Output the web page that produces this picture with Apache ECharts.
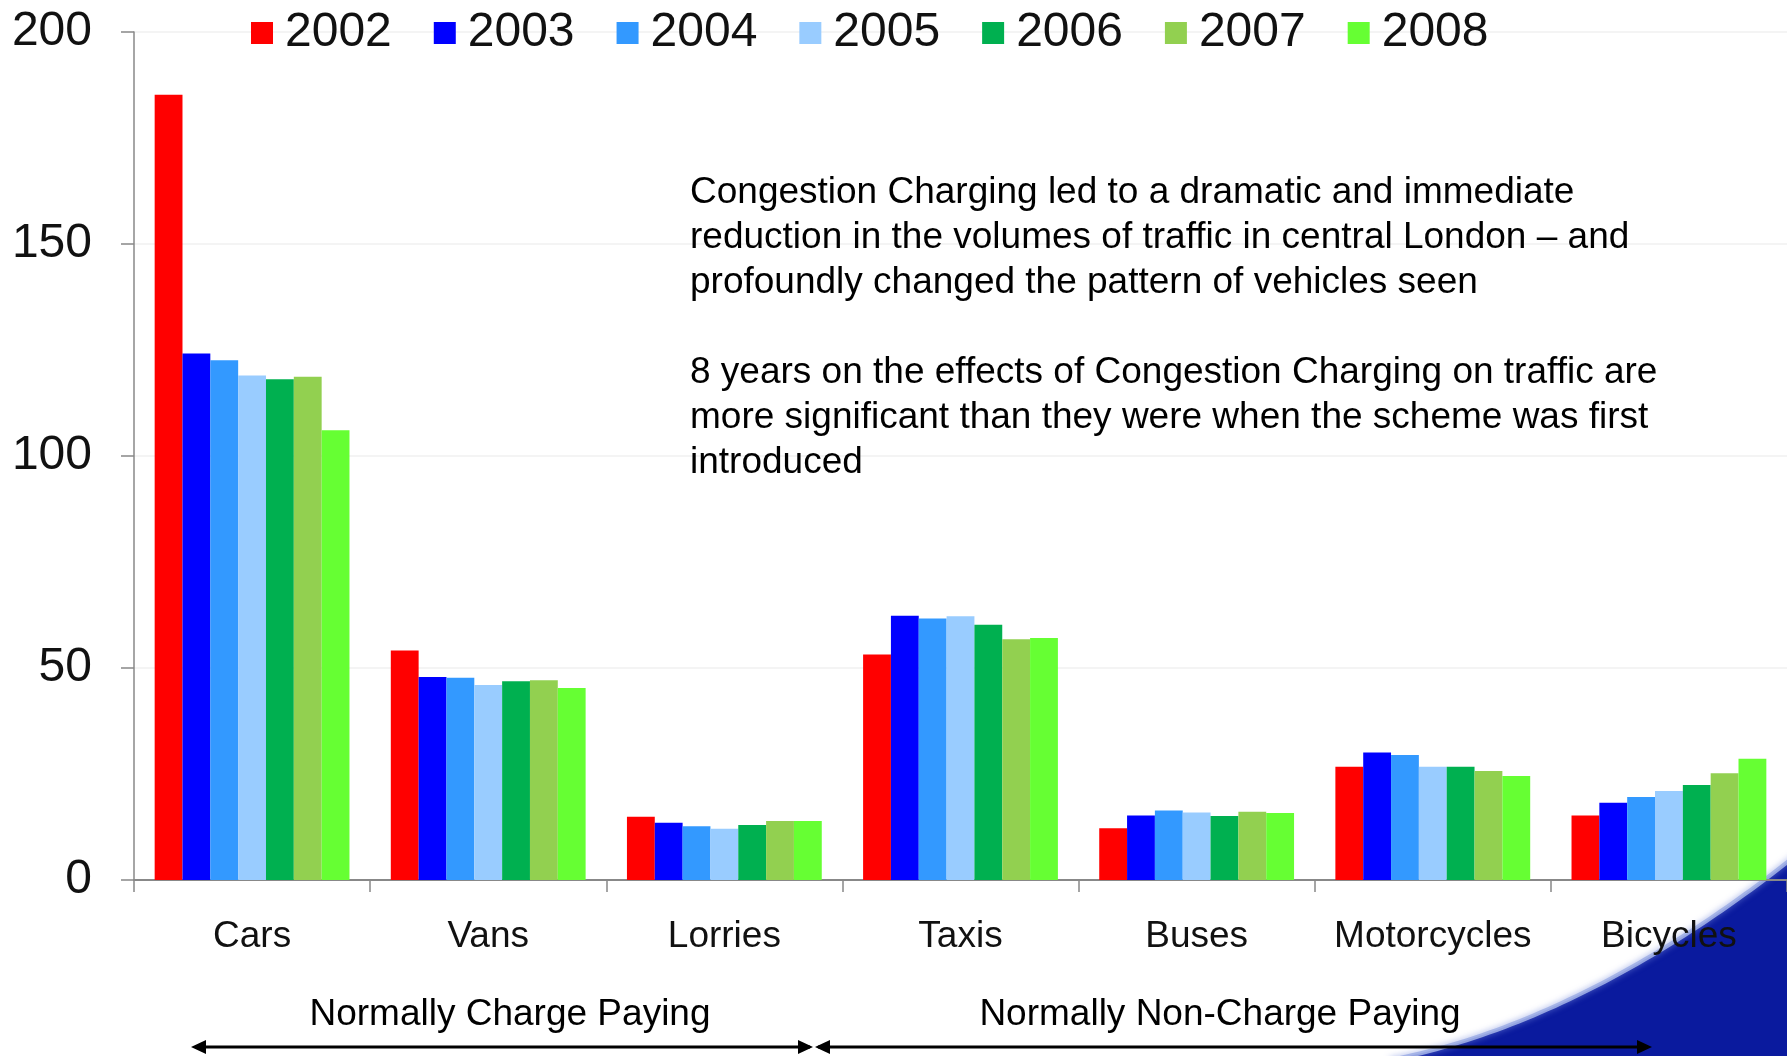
<!DOCTYPE html>
<html>
<head>
<meta charset="utf-8">
<script src="https://cdn.jsdelivr.net/npm/echarts@6/dist/echarts.min.js"></script>
<style>
html,body{margin:0;padding:0;background:#fff;}
#chart{width:1787px;height:1056px;}
</style>
</head>
<body>
<div id="chart"></div>
<script>
const categories = ['Cars', 'Vans', 'Lorries', 'Taxis', 'Buses', 'Motorcycles', 'Bicycles'];
const years = ['2002', '2003', '2004', '2005', '2006', '2007', '2008'];
const yTicks = [0, 50, 100, 150, 200];

const v2002 = [185.2, 54.1, 14.9, 53.2, 12.2, 26.7, 15.2];
const v2003 = [124.2, 47.9, 13.5, 62.3, 15.2, 30.1, 18.2];
const v2004 = [122.6, 47.7, 12.7, 61.7, 16.4, 29.5, 19.6];
const v2005 = [119.0, 46.0, 12.1, 62.2, 15.9, 26.7, 21.0];
const v2006 = [118.1, 46.9, 13.0, 60.2, 15.1, 26.7, 22.4];
const v2007 = [118.7, 47.1, 13.9, 56.8, 16.1, 25.7, 25.2];
const v2008 = [106.1, 45.3, 13.9, 57.1, 15.8, 24.5, 28.6];

const seriesValues = [v2002, v2003, v2004, v2005, v2006, v2007, v2008];
const colors = ['#FF0000', '#0000FF', '#3399FF', '#99CCFF', '#00B050', '#92D050', '#66FF33'];

const noteText = 'Congestion Charging led to a dramatic and immediate\nreduction in the volumes of traffic in central London \u2013 and\nprofoundly changed the pattern of vehicles seen\n\n8 years on the effects of Congestion Charging on traffic are\nmore significant than they were when the scheme was first\nintroduced';
const groupLeft = 'Normally Charge Paying';
const groupRight = 'Normally Non-Charge Paying';

const FONT = '"Liberation Sans", Arial, sans-serif';
const chart = echarts.init(document.getElementById('chart'));

function arrowHead(x, y, dir) {
  return {
    type: 'polygon', z: 20,
    shape: { points: [[x, y], [x - dir * 15, y - 7], [x - dir * 15, y + 7]] },
    style: { fill: '#000' }
  };
}

// decorative swoosh outline (cubic bezier sampled)
function swooshPoints() {
  const p0 = [1390, 1060], p1 = [1545, 1030], p2 = [1690, 940], p3 = [1795, 856];
  const pts = [];
  for (let i = 0; i <= 60; i++) {
    const t = i / 60, u = 1 - t;
    pts.push([
      u*u*u*p0[0] + 3*u*u*t*p1[0] + 3*u*t*t*p2[0] + t*t*t*p3[0],
      u*u*u*p0[1] + 3*u*u*t*p1[1] + 3*u*t*t*p2[1] + t*t*t*p3[1]
    ]);
  }
  return pts;
}
const edge = swooshPoints();
const fillPts = edge.concat([[1795, 1060]]);

const option = {
  backgroundColor: '#ffffff',
  animation: false,
  color: colors,
  textStyle: { fontFamily: FONT },
  legend: {
    left: 246, top: 4,
    itemWidth: 22, itemHeight: 22, itemGap: 42,
    icon: 'rect',
    textStyle: { fontSize: 48, color: '#111', fontFamily: FONT, padding: [0, 0, 0, 7], lineHeight: 48 },
    data: years
  },
  grid: { left: 134, right: -8, top: 32, bottom: 176, containLabel: false },
  xAxis: {
    type: 'category',
    data: categories,
    axisLine: { show: true, lineStyle: { color: '#888', width: 2 } },
    axisTick: { show: true, interval: 0, length: 12, lineStyle: { color: '#888', width: 1.5 } },
    axisLabel: { interval: 0, fontSize: 37, lineHeight: 37, color: '#111', margin: 38, fontFamily: FONT }
  },
  yAxis: {
    type: 'value',
    min: 0, max: 200, interval: 50,
    axisLine: { show: true, lineStyle: { color: '#888', width: 1.5 } },
    axisTick: { show: true, length: 13, lineStyle: { color: '#888', width: 1.5 } },
    axisLabel: {
      fontSize: 48, color: '#111', margin: 42, fontFamily: FONT,
      formatter: function (v) { return yTicks.indexOf(v) >= 0 ? String(v) : ''; }
    },
    splitLine: { show: true, lineStyle: { color: '#f1f1f1', width: 1.5 } }
  },
  series: years.map(function (y, i) {
    return {
      name: y, type: 'bar', data: seriesValues[i],
      barGap: '0%', barCategoryGap: '17.5%',
      itemStyle: { color: colors[i] }
    };
  }),
  graphic: [
    {
      type: 'polygon', z: -10, silent: true,
      shape: { points: fillPts },
      style: { fill: '#0A1A9E' }
    },
    {
      type: 'polyline', z: -9, silent: true,
      shape: { points: edge },
      style: { stroke: 'rgba(160,175,230,0.9)', lineWidth: 4, fill: null, shadowBlur: 6, shadowColor: 'rgba(120,140,220,0.8)' }
    },
    {
      type: 'text', left: 690, top: 170, z: 20,
      style: { text: noteText, font: '37px "Liberation Sans", Arial, sans-serif', fill: '#000', lineHeight: 45 }
    },
    {
      type: 'text', z: 20,
      x: 510, y: 1015,
      style: { text: groupLeft, font: '37px "Liberation Sans", Arial, sans-serif', fill: '#000', align: 'center', verticalAlign: 'middle' }
    },
    {
      type: 'text', z: 20,
      x: 1220, y: 1015,
      style: { text: groupRight, font: '37px "Liberation Sans", Arial, sans-serif', fill: '#000', align: 'center', verticalAlign: 'middle' }
    },
    { type: 'line', z: 20, shape: { x1: 195, y1: 1047, x2: 810, y2: 1047 }, style: { stroke: '#000', lineWidth: 3 } },
    arrowHead(191, 1047, -1),
    arrowHead(813, 1047, 1),
    { type: 'line', z: 20, shape: { x1: 818, y1: 1047, x2: 1648, y2: 1047 }, style: { stroke: '#000', lineWidth: 3 } },
    arrowHead(815, 1047, -1),
    arrowHead(1652, 1047, 1)
  ]
};
chart.setOption(option);
</script>
</body>
</html>
